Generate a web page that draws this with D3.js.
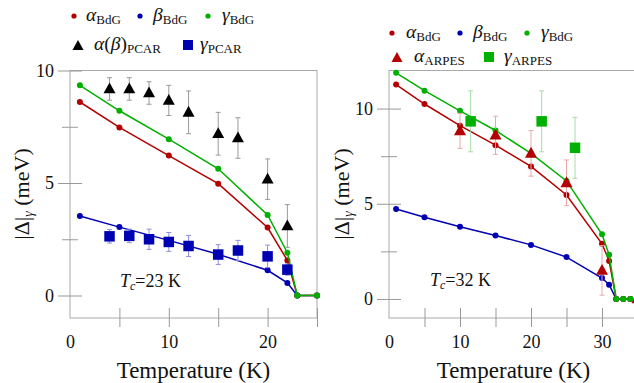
<!DOCTYPE html>
<html>
<head>
<meta charset="utf-8">
<script src="https://cdn.jsdelivr.net/npm/d3@7"></script>
<style>
  body { margin: 0; background: #fff; }
  svg, svg text { font-family: 'Liberation Serif', 'Times New Roman', Times, serif; }
</style>
</head>
<body>
<svg id="chart" width="634" height="383"></svg>
<script>
// left panel (Tc = 23 K)
var tempL = [1, 5, 10, 15, 20, 22, 23, 25];
var alphaL = [8.6, 7.47, 6.22, 4.97, 3.02, 1.56, 0, 0];
var betaL = [3.53, 3.04, 2.45, 1.83, 1.12, 0.56, 0, 0];
var gammaL = [9.34, 8.21, 6.95, 5.63, 3.58, 1.9, 0, 0];

var pcarAbT = [4, 6, 8, 10, 12, 15, 17, 20, 22];
var pcarAbVal = [9.18, 9.18, 9.0, 8.67, 8.14, 7.19, 7.0, 5.17, 3.09];
var pcarAbErr = [0.5, 0.5, 0.5, 0.67, 0.95, 0.95, 0.9, 0.9, 0.95];

var pcarGT = [4, 6, 8, 10, 12, 15, 17, 20, 22];
var pcarGVal = [2.63, 2.65, 2.5, 2.38, 2.2, 1.82, 2.0, 1.74, 1.15];
var pcarGErr = [0.3, 0.3, 0.45, 0.42, 0.47, 0.44, 0.45, 0.5, 0.25];

// right panel (Tc = 32 K)
var tempR = [1, 5, 10, 15, 20, 25, 30, 31, 32, 33, 34];
var alphaR = [11.26, 10.24, 9.1, 8.08, 6.96, 5.46, 2.9, 2.0, 0, 0, 0];
var betaR = [4.73, 4.29, 3.79, 3.33, 2.84, 2.2, 1.1, 0.75, 0, 0, 0];
var gammaR = [11.88, 10.94, 9.88, 8.85, 7.65, 6.2, 3.4, 2.32, 0, 0, 0];

var arpesAT = [10, 15, 20, 25, 30, 35];
var arpesAVal = [8.83, 8.6, 7.65, 6.1, 1.5, 0];
var arpesAErr = [0.92, 1.0, 1.2, 1.2, 1.3, 0];

var arpesGT = [11.5, 21.5, 26.2];
var arpesGVal = [9.33, 9.33, 7.94];
var arpesGErr = [1.6, 1.6, 1.6];

// 色
var RED = '#b30000', BLUE = '#0000b3', GREEN = '#00b000';

var svg = d3.select('#chart');

function zip(xs, ys, es) {
  return xs.map(function(t, i) {
    return { t: t, v: ys[i], e: es ? es[i] : 0 };
  });
}

function triPath(s) {
  var h = s * 0.9;
  return 'M0,' + (-h * 0.6) + 'L' + (s / 2) + ',' + (h * 0.4) + 'L' + (-s / 2) + ',' + (h * 0.4) + 'Z';
}

function sqPath(s) {
  var a = s / 2;
  return 'M' + (-a) + ',' + (-a) + 'H' + a + 'V' + a + 'H' + (-a) + 'Z';
}

function drawPanel(opt) {
  var x = d3.scaleLinear().domain(opt.xDomain).range(opt.xRange);
  var y = d3.scaleLinear().domain(opt.yDomain).range([318, 70.5]);
  var g = svg.append('g');

  // 枠
  g.append('rect')
    .attr('x', opt.xRange[0]).attr('y', 70.5)
    .attr('width', opt.xRange[1] - opt.xRange[0]).attr('height', 318 - 70.5)
    .attr('fill', 'none').attr('stroke', '#aaa').attr('stroke-width', 1);

  // y軸
  var yAxis = g.append('g')
    .attr('transform', 'translate(' + opt.xRange[0] + ',0)')
    .call(d3.axisLeft(y).tickValues([0, 2.5, 5, 7.5, 10]).tickSize(12)
      .tickFormat(function(d) { return d % 5 === 0 ? d : ''; }));
  yAxis.attr('font-size', 18);
  yAxis.select('.domain').remove();
  yAxis.selectAll('line')
    .attr('stroke', '#999')
    .attr('x1', function(d) { return d % 5 === 0 ? 12 : 8; })
    .attr('x2', function(d) { return d % 5 === 0 ? -12 : -8; });
  yAxis.selectAll('text')
    .attr('x', -16).attr('fill', '#111');

  // x軸
  var xAxis = g.append('g')
    .attr('transform', 'translate(0,318)')
    .call(d3.axisBottom(x).tickValues(opt.xTicks).tickSize(9)
      .tickFormat(function(d) { return d % 10 === 0 ? d : ''; }));
  xAxis.attr('font-size', 18);
  xAxis.select('.domain').remove();
  xAxis.selectAll('line')
    .attr('stroke', '#999')
    .attr('y1', function(d) { return d === 0 ? 0 : -10; })
    .attr('y2', function(d) { return d === 0 ? 0 : 9; });
  xAxis.selectAll('text')
    .attr('y', 17).attr('fill', '#111');

  // BdG曲線
  var line = d3.line().x(function(d) { return x(d.t); }).y(function(d) { return y(d.v); });
  opt.bdg.forEach(function(s) {
    var pts = zip(opt.temps, s.vals);
    g.append('path').datum(pts)
      .attr('d', line).attr('fill', 'none')
      .attr('stroke', s.color).attr('stroke-width', 1.5);
    g.selectAll(null).data(pts).enter().append('circle')
      .attr('cx', function(d) { return x(d.t); })
      .attr('cy', function(d) { return y(d.v); })
      .attr('r', 3).attr('fill', s.color);
  });

  // 実験値 (エラーバー + マーカー)
  opt.exp.forEach(function(s) {
    var pts = zip(s.t, s.vals, s.errs).filter(function(d) { return d.e > 0; });
    var eb = g.selectAll(null).data(pts).enter().append('g')
      .attr('stroke', s.errColor).attr('stroke-width', 1);
    eb.append('line')
      .attr('x1', function(d) { return x(d.t); }).attr('x2', function(d) { return x(d.t); })
      .attr('y1', function(d) { return y(d.v + d.e); }).attr('y2', function(d) { return y(d.v - d.e); });
    [1, -1].forEach(function(sg) {
      eb.append('line')
        .attr('x1', function(d) { return x(d.t) - 2.5; }).attr('x2', function(d) { return x(d.t) + 2.5; })
        .attr('y1', function(d) { return y(d.v + sg * d.e); }).attr('y2', function(d) { return y(d.v + sg * d.e); });
    });
  });
  opt.exp.forEach(function(s) {
    var pts = zip(s.t, s.vals, s.errs);
    g.selectAll(null).data(pts).enter().append('path')
      .attr('transform', function(d) { return 'translate(' + x(d.t) + ',' + y(d.v) + ')'; })
      .attr('fill', s.color)
      .attr('d', s.shape === 'tri' ? triPath(12) : sqPath(10.5));
  });

  // Tc
  var tc = g.append('text').attr('x', opt.tcPos[0]).attr('y', opt.tcPos[1])
    .attr('font-size', 18).attr('fill', '#111');
  tc.append('tspan').attr('font-style', 'italic').text('T');
  tc.append('tspan').attr('font-style', 'italic').attr('font-size', 12).attr('dy', 3).text('c');
  tc.append('tspan').attr('dy', -3).text('=' + opt.tc + ' K');

  // 軸ラベル
  g.append('text')
    .attr('x', opt.xLabelX).attr('y', 378)
    .attr('text-anchor', 'middle').attr('font-size', 23).attr('fill', '#111')
    .text('Temperature (K)');
  var yl = g.append('text')
    .attr('transform', 'translate(' + opt.yLabelX + ',194) rotate(-90)')
    .attr('text-anchor', 'middle').attr('font-size', 22).attr('fill', '#111');
  yl.append('tspan').text('|\u0394|');
  yl.append('tspan').attr('font-style', 'italic').attr('font-size', 14).attr('dy', 4).text('\u03b3');
  yl.append('tspan').attr('dy', -4).text(' (meV)');

  // 凡例
  opt.legend.forEach(function(it) {
    if (it.shape === 'dot') {
      g.append('circle').attr('cx', it.mx).attr('cy', it.my).attr('r', 2.6).attr('fill', it.color);
    } else {
      g.append('path').attr('transform', 'translate(' + it.mx + ',' + (it.my + (it.shape === 'tri' ? 1 : 0)) + ')')
        .attr('d', it.shape === 'tri' ? triPath(11) : sqPath(10)).attr('fill', it.color);
    }
    var t = g.append('text').attr('x', it.tx).attr('y', it.my + 5).attr('fill', '#111');
    it.parts.forEach(function(p) {
      t.append('tspan').attr('font-style', p[1] ? 'italic' : 'normal')
        .attr('font-size', 19.5).text(p[0]);
    });
    t.append('tspan').attr('font-size', 13).attr('dy', 3).text(it.sub);
  });
}

drawPanel({
  xDomain: [0, 25], xRange: [70, 317], yDomain: [-1, 10],
  xTicks: [0, 5, 10, 15, 20, 25],
  temps: tempL,
  bdg: [
    { vals: betaL, color: BLUE },
    { vals: alphaL, color: RED },
    { vals: gammaL, color: GREEN }
  ],
  exp: [
    { t: pcarGT, vals: pcarGVal, errs: pcarGErr, color: BLUE, errColor: '#8f8fdc', shape: 'sq' },
    { t: pcarAbT, vals: pcarAbVal, errs: pcarAbErr, color: '#000', errColor: '#999', shape: 'tri' }
  ],
  tcPos: [120, 287], tc: 23,
  xLabelX: 193.5, yLabelX: 29,
  legend: [
    { shape: 'dot', color: RED, mx: 74, my: 16, tx: 86, parts: [['\u03b1', 1]], sub: 'BdG' },
    { shape: 'dot', color: BLUE, mx: 140, my: 16, tx: 153, parts: [['\u03b2', 1]], sub: 'BdG' },
    { shape: 'dot', color: GREEN, mx: 208, my: 16, tx: 222, parts: [['\u03b3', 1]], sub: 'BdG' },
    { shape: 'tri', color: '#000', mx: 78, my: 45, tx: 94, parts: [['\u03b1', 1], ['(', 0], ['\u03b2', 1], [')', 0]], sub: 'PCAR' },
    { shape: 'sq', color: BLUE, mx: 188, my: 45, tx: 200, parts: [['\u03b3', 1]], sub: 'PCAR' }
  ]
});

drawPanel({
  xDomain: [0, 35], xRange: [389, 637.5], yDomain: [-1, 12],
  xTicks: [0, 5, 10, 15, 20, 25, 30, 35],
  temps: tempR,
  bdg: [
    { vals: betaR, color: BLUE },
    { vals: alphaR, color: RED },
    { vals: gammaR, color: GREEN }
  ],
  exp: [
    { t: arpesGT, vals: arpesGVal, errs: arpesGErr, color: GREEN, errColor: '#a8dca8', shape: 'sq' },
    { t: arpesAT, vals: arpesAVal, errs: arpesAErr, color: RED, errColor: '#e8a8a8', shape: 'tri' }
  ],
  tcPos: [430, 286], tc: 32,
  xLabelX: 513.5, yLabelX: 349,
  legend: [
    { shape: 'dot', color: RED, mx: 392, my: 33, tx: 406, parts: [['\u03b1', 1]], sub: 'BdG' },
    { shape: 'dot', color: BLUE, mx: 460, my: 33, tx: 473, parts: [['\u03b2', 1]], sub: 'BdG' },
    { shape: 'dot', color: GREEN, mx: 527, my: 33, tx: 541, parts: [['\u03b3', 1]], sub: 'BdG' },
    { shape: 'tri', color: RED, mx: 397, my: 57, tx: 414, parts: [['\u03b1', 1]], sub: 'ARPES' },
    { shape: 'sq', color: GREEN, mx: 489, my: 57, tx: 504, parts: [['\u03b3', 1]], sub: 'ARPES' }
  ]
});
</script>
</body>
</html>
